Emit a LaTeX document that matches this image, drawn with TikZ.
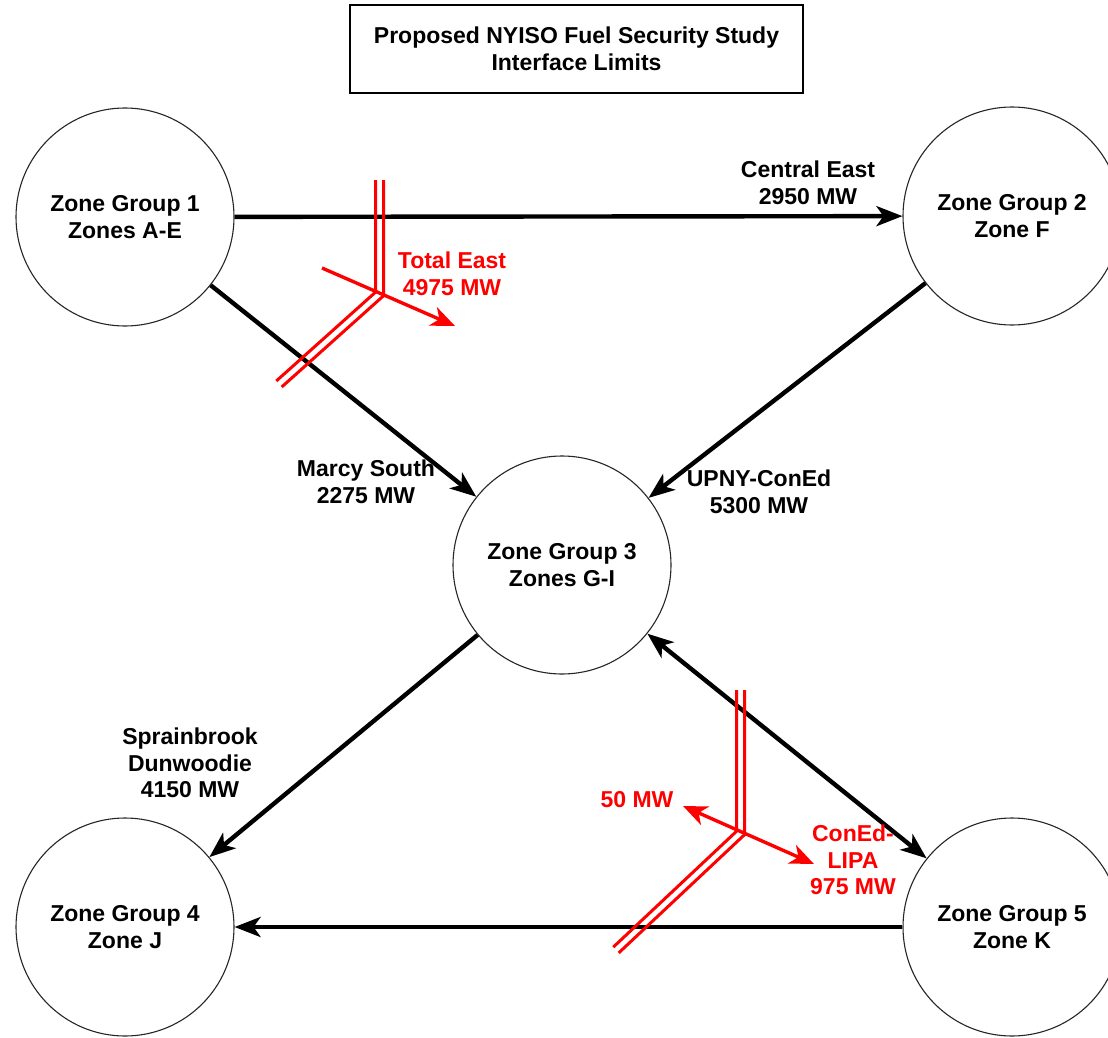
\documentclass[tikz,border=0pt]{standalone}
\usepackage{fontspec}
\setmainfont{Liberation Sans}
\usetikzlibrary{arrows.meta}
\begin{document}
\begin{tikzpicture}[x=1pt,y=-1pt,
  txt/.style={align=center, font=\fontsize{23}{26.5}\selectfont\bfseries},
  zone/.style={txt, circle, draw=black!85, line width=1.1pt, minimum size=218pt, inner sep=0pt},
  rtxt/.style={txt, text=red},
  flow/.style={line width=4.4pt, -{Stealth[length=26pt,width=20pt,inset=7pt]}},
  biflow/.style={line width=4.4pt, {Stealth[length=26pt,width=20pt,inset=7pt]}-{Stealth[length=26pt,width=20pt,inset=7pt]}},
  cutline/.style={draw=red, line width=3pt, line join=miter},
  rflow/.style={red, line width=3.4pt, -{Stealth[length=24pt,width=20pt,inset=7pt]}},
  rbiflow/.style={red, line width=3.4pt, {Stealth[length=24pt,width=20pt,inset=7pt]}-{Stealth[length=24pt,width=20pt,inset=7pt]}}
]
\clip (0,0) rectangle (1108,1038);
\fill[white] (0,0) rectangle (1108,1038);

% title
\node[txt, draw, line width=1.1pt, minimum width=453pt, minimum height=88pt] (title) at (576.5,49) {Proposed NYISO Fuel Security Study\\Interface Limits};

% zones
\node[zone] (z1) at (125,217) {Zone Group 1\\Zones A-E};
\node[zone] (z2) at (1012,216) {Zone Group 2\\Zone F};
\node[zone] (z3) at (562,565) {Zone Group 3\\Zones G-I};
\node[zone] (z4) at (125,927) {Zone Group 4\\Zone J};
\node[zone] (z5) at (1012,927) {Zone Group 5\\Zone K};

% connectors
\draw[flow] (z1) -- (z2);
\draw[flow] (z1) -- (z3);
\draw[flow] (z2) -- (z3);
\draw[flow] (z3) -- (z4);
\draw[biflow] (z3) -- (z5);
\draw[flow] (z5) -- (z4);

% labels
\node[txt] (lce) at (808,183) {Central East\\2950 MW};
\node[txt] (lms) at (366,482) {Marcy South\\2275 MW};
\node[txt] (lup) at (759,492) {UPNY-ConEd\\5300 MW};
\node[txt] (lsd) at (190,763) {Sprainbrook\\Dunwoodie\\4150 MW};

% Total East cut
\draw[cutline] (375.5,180) -- (375.5,292.2) -- (276.3,381.0);
\draw[cutline] (383.5,180) -- (383.5,295.8) -- (281.7,387.0);
\coordinate (te1) at (322,268);
\coordinate (te2) at (455,326);
\draw[rflow] (te1) -- (te2);
\node[rtxt] (lte) at (452,274) {Total East\\4975 MW};

% ConEd-LIPA cut
\draw[cutline] (736.5,690) -- (736.5,831.3) -- (613.3,947.1);
\draw[cutline] (744.5,690) -- (744.5,834.7) -- (618.7,952.9);
\coordinate (cl1) at (683,806);
\coordinate (cl2) at (814,864);
\draw[rbiflow] (cl1) -- (cl2);
\node[rtxt] (l50) at (637,800) {50 MW};
\node[rtxt] (lcl) at (853,860) {ConEd-\\LIPA\\975 MW};
\end{tikzpicture}
\end{document}
